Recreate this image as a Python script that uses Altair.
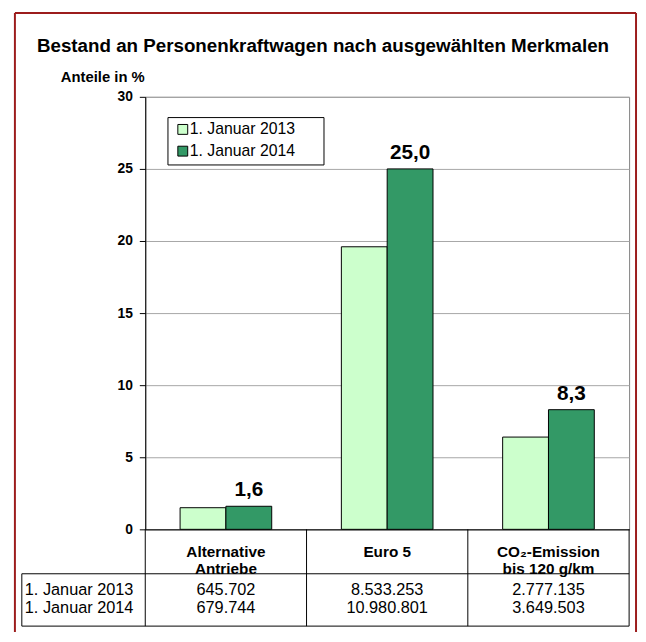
import altair as alt
import pandas as pd

# ---------------- data ----------------
categories = ["Alternative Antriebe", "Euro 5", "CO₂-Emission bis 120 g/km"]
category_text = ["Alternative|Antriebe", "Euro 5", "CO₂-Emission|bis 120 g/km"]
series = ["1. Januar 2013", "1. Januar 2014"]
share_2013 = [1.5, 19.6, 6.4]
share_2014 = [1.6, 25.0, 8.3]
label_2014 = ["1,6", "25,0", "8,3"]
count_2013 = ["645.702", "8.533.253", "2.777.135"]
count_2014 = ["679.744", "10.980.801", "3.649.503"]
y_ticks = [0, 5, 10, 15, 20, 25, 30]
colors = ["#CCFFCC", "#339966"]
title_text = "Bestand an Personenkraftwagen nach ausgewählten Merkmalen"

# ---------------- layout ----------------
W, H = 490, 438
OX, OY = 147, 94  # page position of plot origin


def px(a):
    return a - OX


def py(a):
    return a - OY


FONT = "Liberation Sans"

bar_df = pd.DataFrame({
    "cat": categories * 2,
    "series": [series[0]] * 3 + [series[1]] * 3,
    "value": share_2013 + share_2014,
})
lab_df = pd.DataFrame({"cat": categories, "series": [series[1]] * 3,
                       "value": share_2014, "label": label_2014})
cat_df = pd.DataFrame({"cat": categories, "text": category_text})
tab_df = pd.DataFrame({"cat": categories, "c13": count_2013, "c14": count_2014})
one = pd.DataFrame({"k": [0]})
ser1 = pd.DataFrame({"series": [series[0]]})
ser2 = pd.DataFrame({"series": [series[1]]})
ttl = pd.DataFrame({"t": [title_text]})

xs = alt.Scale(domain=categories, paddingInner=0, paddingOuter=0)
xo = alt.Scale(domain=series, paddingInner=0, paddingOuter=0.76)
ys = alt.Scale(domain=[0, 30], nice=False, zero=True)
cs = alt.Scale(domain=series, range=colors)

X = alt.X("cat:N", scale=xs, sort=categories,
          axis=alt.Axis(title=None, labels=False, ticks=False, grid=False,
                        domainColor="black"))
XO = alt.XOffset("series:N", scale=xo)

yaxis = alt.Axis(values=y_ticks, title="Anteile in %", titleAngle=0,
                 titleAlign="left", titleBaseline="middle",
                 titleX=px(61), titleY=py(73), titleFontWeight="bold",
                 titleFontSize=15, titleColor="black",
                 labelFontWeight="bold", labelFontSize=14, labelColor="black",
                 labelPadding=7, tickSize=6, tickColor="black",
                 domainColor="black", gridColor="#A6A6A6", format="d")

bars = alt.Chart(bar_df).mark_bar(stroke="black", strokeWidth=1).encode(
    x=X, xOffset=XO,
    y=alt.Y("value:Q", scale=ys, axis=yaxis),
    color=alt.Color("series:N", scale=cs, legend=None),
)

labels = alt.Chart(lab_df).mark_text(baseline="bottom", dy=-6, fontSize=21,
                                     fontWeight="bold", color="black").encode(
    x=X, xOffset=XO, y=alt.Y("value:Q", scale=ys), text="label:N")

# legend box (drawn inside the plot, colours from the same colour scale)
leg_box = alt.Chart(one).mark_rect(fill="white", stroke="black", strokeWidth=1).encode(
    x=alt.value(px(170)), x2=alt.value(px(328)),
    y=alt.value(py(115)), y2=alt.value(py(163)))
LEG_Y = [127, 149]
leg_layers = []
for sdf, yy in zip([ser1, ser2], LEG_Y):
    leg_layers.append(
        alt.Chart(sdf).mark_square(size=100, stroke="black", strokeWidth=1,
                                   opacity=1).encode(
            x=alt.value(px(185)), y=alt.value(py(yy)),
            color=alt.Color("series:N", scale=cs, legend=None)))
    leg_layers.append(
        alt.Chart(sdf).mark_text(fontSize=16, align="left", baseline="middle",
                                 color="black").encode(
            x=alt.value(px(192)), y=alt.value(py(yy)), text="series:N"))

cat_text = alt.Chart(cat_df).mark_text(lineBreak="|", fontSize=15.5, fontWeight="bold",
                                       baseline="middle", lineHeight=17,
                                       color="black").encode(
    x=X, y=alt.value(py(555)), text="text:N")

TF = 16.5
r1 = alt.Chart(tab_df).mark_text(fontSize=TF, baseline="middle", color="black").encode(
    x=X, y=alt.value(py(593)), text="c13:N")
r2 = alt.Chart(tab_df).mark_text(fontSize=TF, baseline="middle", color="black").encode(
    x=X, y=alt.value(py(612)), text="c14:N")
rl1 = alt.Chart(ser1).mark_text(fontSize=TF, baseline="middle", align="left",
                                color="black").encode(
    x=alt.value(px(25)), y=alt.value(py(593)), text="series:N")
rl2 = alt.Chart(ser2).mark_text(fontSize=TF, baseline="middle", align="left",
                                color="black").encode(
    x=alt.value(px(25)), y=alt.value(py(612)), text="series:N")

vlines = alt.Chart(cat_df).mark_rule(color="black", strokeWidth=1).encode(
    x=alt.X("cat:N", scale=xs, sort=categories, bandPosition=0),
    y=alt.value(H), y2=alt.value(py(630)))
rline = alt.Chart(one).mark_rule(color="black", strokeWidth=1).encode(
    x=alt.value(W), y=alt.value(H), y2=alt.value(py(630)))
lline = alt.Chart(one).mark_rule(color="black", strokeWidth=1).encode(
    x=alt.value(px(22)), y=alt.value(py(577)), y2=alt.value(py(630)))
htop = alt.Chart(one).mark_rule(color="black", strokeWidth=1).encode(
    x=alt.value(px(22)), x2=alt.value(W), y=alt.value(py(577)))
hbot = alt.Chart(one).mark_rule(color="black", strokeWidth=1).encode(
    x=alt.value(px(22)), x2=alt.value(W), y=alt.value(py(630)))

RED = "#9C1C1C"
f_left = alt.Chart(one).mark_rule(color=RED, strokeWidth=2).encode(
    x=alt.value(px(15)), y=alt.value(py(9)), y2=alt.value(py(660)))
f_top = alt.Chart(one).mark_rule(color=RED, strokeWidth=2).encode(
    x=alt.value(px(15)), x2=alt.value(px(644)), y=alt.value(py(9)))
f_right = alt.Chart(one).mark_rule(color=RED, strokeWidth=2).encode(
    x=alt.value(px(644)), y=alt.value(py(9)), y2=alt.value(py(660)))

title = alt.Chart(ttl).mark_text(fontSize=19, fontWeight="bold", align="center",
                                 baseline="middle", color="black").encode(
    x=alt.value(px(327)), y=alt.value(py(43)), text="t:N")

chart = alt.layer(
    bars, labels, leg_box, *leg_layers, cat_text, r1, r2, rl1, rl2,
    vlines, rline, lline, htop, hbot, f_left, f_top, f_right, title,
).properties(
    width=W, height=H,
    autosize=alt.AutoSizeParams(type="none"),
    padding={"left": 139, "top": 86, "right": 9, "bottom": 100},
    background="white",
).configure(font=FONT).configure_view(stroke="#808080", strokeWidth=1)

chart.save("out.html", embed_options={"renderer": "svg", "actions": False})
